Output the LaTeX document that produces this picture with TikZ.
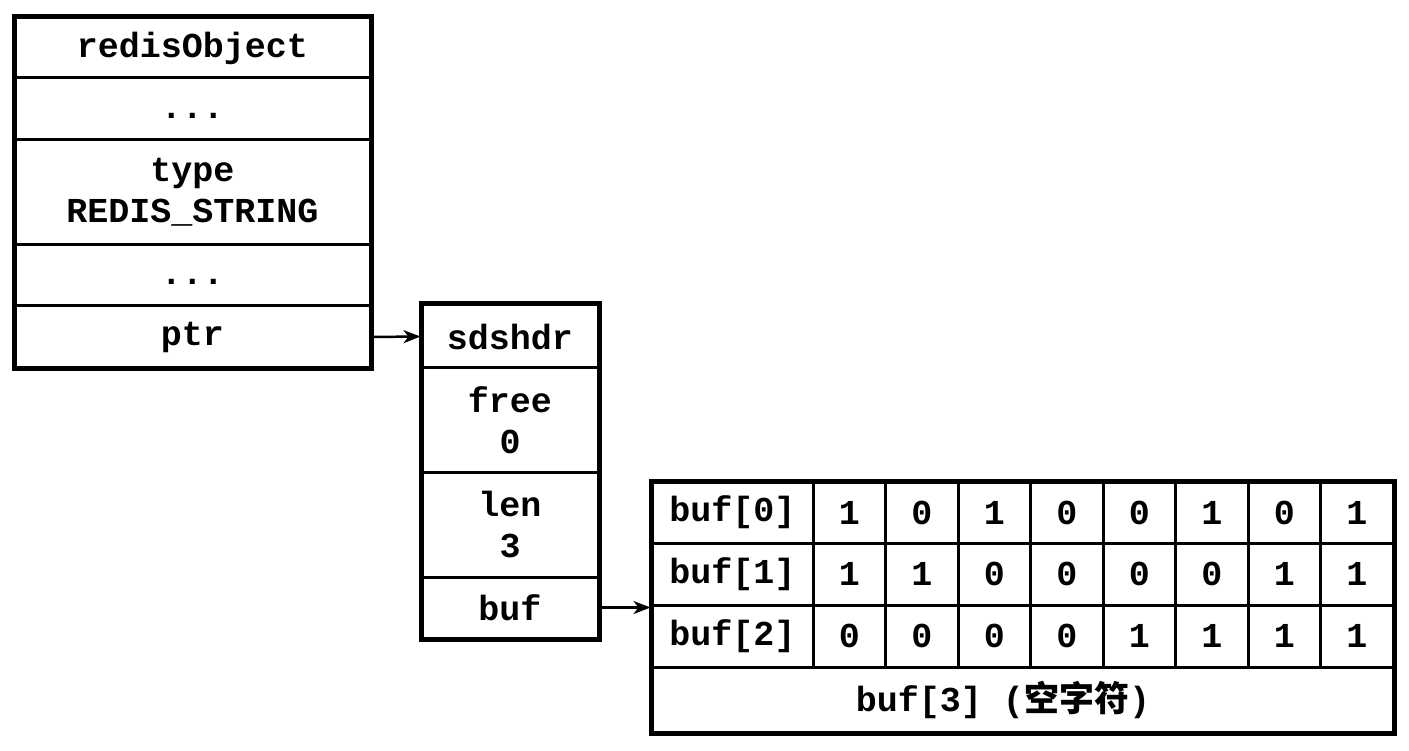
\documentclass[tikz,border=0pt]{standalone}
\usepackage{fontspec}
\setmonofont{Liberation Mono}
\newfontfamily\cjkfont{Noto Sans CJK SC}
\usetikzlibrary{arrows.meta}
\begin{document}
\begin{tikzpicture}[x=1pt,y=-1pt,
  cell/.style={draw, line width=3pt, inner sep=0pt, align=center,
    font=\ttfamily\bfseries\fontsize{35}{41}\selectfont},
  outer/.style={line width=4pt},
  link/.style={line width=2.5pt, -{Stealth[length=17pt,width=13pt,inset=5pt]}}]
\useasboundingbox (0,0) rectangle (1409,751);
% redisObject
\node[cell, minimum width=355pt, minimum height=60pt]  (r1) at (192.5,48)    {redisObject};
\node[cell, minimum width=355pt, minimum height=62pt]  (r2) at (192.5,109)   {\vphantom{bp}...};
\node[cell, minimum width=355pt, minimum height=105pt] (r3) at (192.5,192.5) {type\\REDIS\_STRING};
\node[cell, minimum width=355pt, minimum height=61pt]  (r4) at (192.5,275.5) {\vphantom{bp}...};
\node[cell, minimum width=355pt, minimum height=62pt]  (r5) at (192.5,337)   {ptr};
\draw[outer] (r1.north west) rectangle (r5.south east);
% sdshdr
\node[cell, minimum width=176pt, minimum height=63pt]  (s1) at (510,336.5) {sdshdr};
\node[cell, minimum width=176pt, minimum height=104pt] (s2) at (510,420)   {free\\0};
\node[cell, minimum width=176pt, minimum height=105pt] (s3) at (510,524.5) {len\\3};
\node[cell, minimum width=176pt, minimum height=61pt]  (s4) at (510,607.5) {buf};
\draw[outer] (s1.north west) rectangle (s4.south east);
% buf table
\node[cell, minimum width=161pt, minimum height=61pt] (l0) at (732.5,512.5) {buf[0]};
\node[cell, minimum width=161pt, minimum height=62pt] (l1) at (732.5,574)   {buf[1]};
\node[cell, minimum width=161pt, minimum height=62pt] (l2) at (732.5,636)   {buf[2]};
\foreach \v [count=\i from 0] in {1,0,1,0,0,1,0,1}
  \node[cell, minimum width=72.5pt, minimum height=61pt] (a\i) at (849.25+72.5*\i,512.5) {\v};
\foreach \v [count=\i from 0] in {1,1,0,0,0,0,1,1}
  \node[cell, minimum width=72.5pt, minimum height=62pt] (b\i) at (849.25+72.5*\i,574) {\v};
\foreach \v [count=\i from 0] in {0,0,0,0,1,1,1,1}
  \node[cell, minimum width=72.5pt, minimum height=62pt] (c\i) at (849.25+72.5*\i,636) {\v};
\node[cell, minimum width=741pt, minimum height=65pt] (l3) at (1022.5,699.5) {};
\node[font=\ttfamily\bfseries\fontsize{35}{41}\selectfont, inner sep=0pt] (t3) at (1003,699.5)
  {buf[3] ({\cjkfont\bfseries 空字符})};
\draw[outer] (l0.north west) rectangle (l3.south east);
% connectors
\draw[link] (r5.east) -- (s1.west);
\draw[link] (s4.east) -- (s4.east -| l2.west);
\end{tikzpicture}
\end{document}
